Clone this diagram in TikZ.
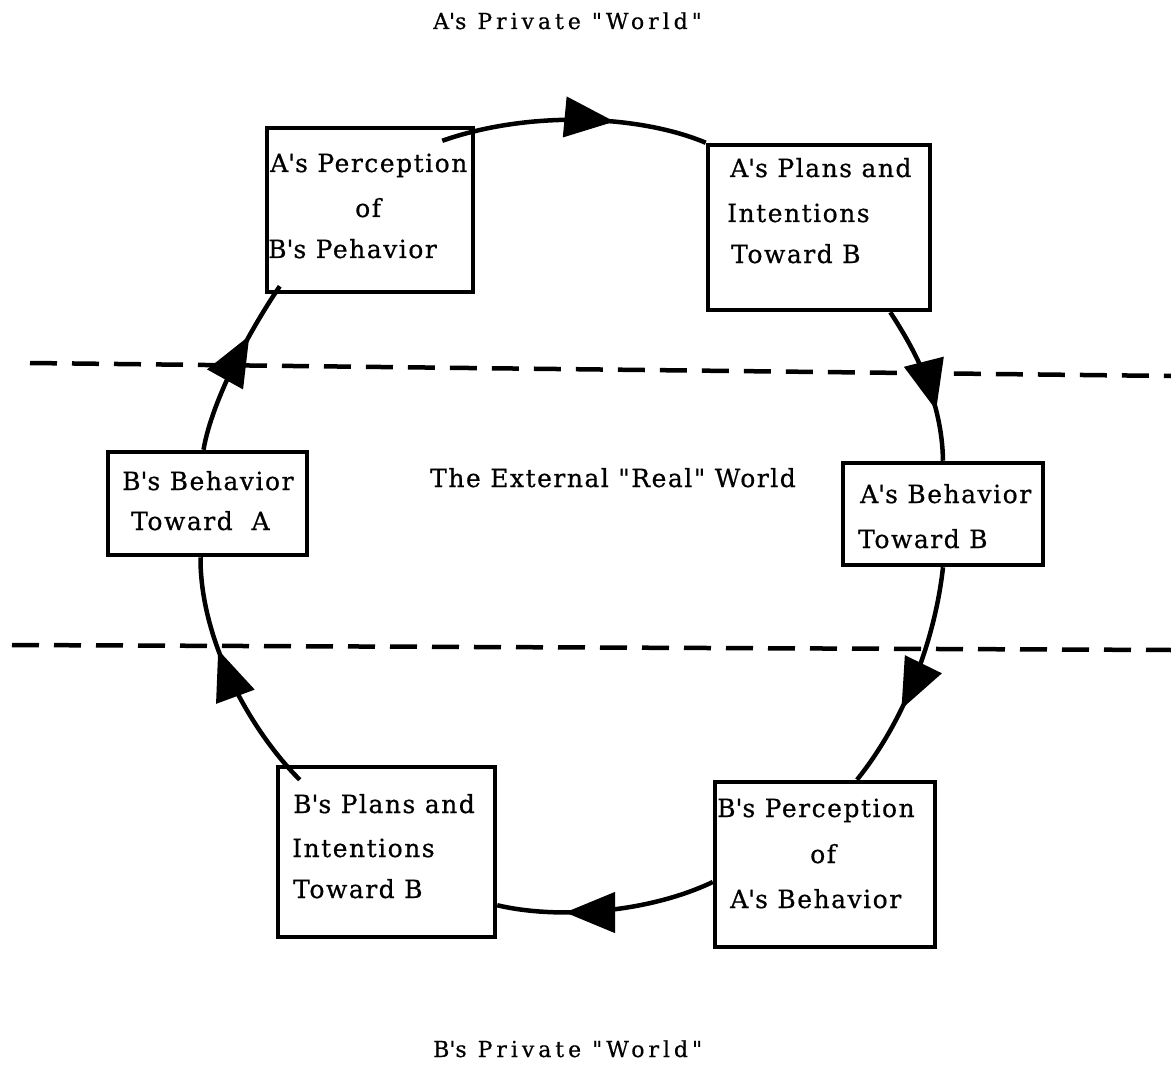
\documentclass[tikz,border=0pt]{standalone}
\usepackage{fontspec}
\newfontfamily\tw{DejaVu Serif}[LetterSpace=6,FakeBold=0.6]
\newfontfamily\twt{DejaVu Serif}[LetterSpace=18,FakeBold=0.6]
\usetikzlibrary{arrows.meta,decorations.markings}
\newcommand{\ap}{\textquotesingle}
\begin{document}
\begin{tikzpicture}[x=1pt,y=-1pt,
  box/.style={draw,line width=4.5pt,inner sep=0pt,fill=white},
  txt/.style={anchor=base west,inner sep=0pt,font=\tw\fontsize{25}{30}\selectfont},
  ttl/.style={anchor=base west,inner sep=0pt,font=\twt\fontsize{22}{26}\selectfont},
  sep/.style={line width=4.5pt,dash pattern=on 27pt off 15pt},
  conn/.style={line width=4.5pt,postaction={decorate},
    decoration={markings,mark=at position #1 with {\arrow{Triangle[length=50pt,width=40pt]}}}}]
\useasboundingbox (0,0) rectangle (1171,1070);
% separators
\coordinate (s1a) at (30,363); \coordinate (s1b) at (1171,376);
\coordinate (s2a) at (12,645); \coordinate (s2b) at (1171,650);
\draw[sep] (s1a) -- (s1b);
\draw[sep] (s2a) -- (s2b);
% boxes
\node[box,minimum width=206pt,minimum height=164pt] (b1) at (370,210) {};
\node[box,minimum width=222pt,minimum height=165pt] (b2) at (819,227.5) {};
\node[box,minimum width=199pt,minimum height=103pt] (b3) at (207.5,503.5) {};
\node[box,minimum width=200pt,minimum height=102pt] (b4) at (943,514) {};
\node[box,minimum width=217pt,minimum height=170pt] (b5) at (386.5,852) {};
\node[box,minimum width=220pt,minimum height=165pt] (b6) at (825,864.5) {};
% texts
\node[ttl] (ta) at (433,29) {A\ap s Private "World"};
\node[ttl] (tb) at (433,1057) {B\ap s Private "World"};
\node[txt] (te) at (430,487) {The External "Real" World};
\node[txt] (t1a) at (270,172) {A\ap s Perception};
\node[txt] (t1b) at (355,217) {of};
\node[txt] (t1c) at (268,258) {B\ap s Pehavior};
\node[txt] (t2a) at (730,177) {A\ap s Plans and};
\node[txt] (t2b) at (727,222) {Intentions};
\node[txt] (t2c) at (731,263) {Toward B};
\node[txt] (t3a) at (122,490) {B\ap s Behavior};
\node[txt] (t3b) at (131,530) {Toward\ \ A};
\node[txt] (t4a) at (860,503) {A\ap s Behavior};
\node[txt] (t4b) at (858,548) {Toward B};
\node[txt] (t5a) at (293,813) {B\ap s Plans and};
\node[txt] (t5b) at (292,857) {Intentions};
\node[txt] (t5c) at (293,898) {Toward B};
\node[txt] (t6a) at (717,817) {B\ap s Perception};
\node[txt] (t6b) at (810,863) {of};
\node[txt] (t6c) at (730,908) {A\ap s Behavior};
% connectors
\draw[conn=0.65] ([shift={(-33,15)}]b1.north east) .. controls (530,110) and (640,115) .. (b2.north west);
\draw[conn=0.68] ([xshift=-42pt]b2.south east) .. controls (915,350) and (942,400) .. (b4.north);
\draw[conn=0.64] (b4.south) .. controls (935,640) and (905,720) .. ([xshift=32pt]b6.north);
\draw[conn=0.69] ([yshift=-17.5pt]b6.west) .. controls (650,912) and (560,920) .. ([yshift=34pt]b5.south east);
\draw[conn=0.62] ([shift={(24,15)}]b5.north west) .. controls (250,730) and (200,640) .. ([xshift=-7pt]b3.south);
\draw[conn=0.68] ([xshift=-4pt]b3.north) .. controls (212,400) and (250,330) .. ([shift={(15,-8)}]b1.south west);
\end{tikzpicture}
\end{document}
